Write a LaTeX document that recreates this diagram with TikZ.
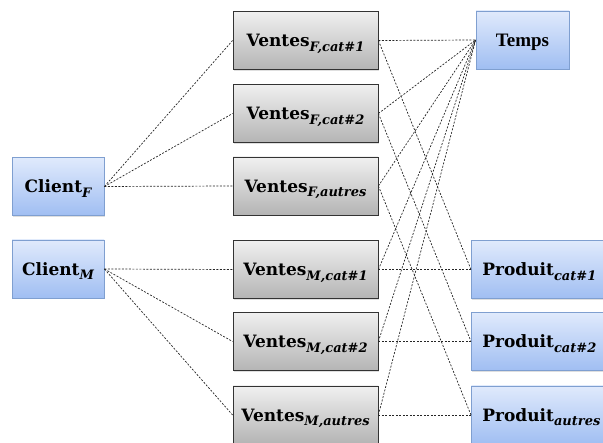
\documentclass[tikz,border=0pt]{standalone}
\usepackage{fontspec}
\setmainfont{DejaVu Serif}
\newfontfamily\timesfont{Liberation Serif}
\usetikzlibrary{shadows}
\definecolor{bluetop}{HTML}{E0EAFC}
\definecolor{bluebot}{HTML}{A0BEF2}
\definecolor{blueborder}{HTML}{7F9FD0}
\definecolor{graytop}{HTML}{F0F0F0}
\definecolor{graybot}{HTML}{B4B4B4}
\definecolor{grayborder}{HTML}{333333}
\newcommand\subtxt[1]{\raisebox{-4.5pt}{\fontsize{13}{13}\selectfont\bfseries\itshape #1}}
\tikzset{
  boxbase/.style={line width=0.8pt, inner sep=0pt, minimum height=58pt,
    text height=13pt, text depth=0pt,
    font=\fontsize{17}{18}\selectfont\bfseries,
    drop shadow={shadow xshift=0.8pt, shadow yshift=-1.2pt, opacity=0.25}},
  bluebox/.style={boxbase, draw=blueborder, top color=bluetop, bottom color=bluebot, minimum width=92pt},
  graybox/.style={boxbase, draw=grayborder, top color=graytop, bottom color=graybot, minimum width=145pt},
  prodbox/.style={bluebox, anchor=west, text width=140pt, align=left, inner xsep=11pt},
  link/.style={draw=black!85, line width=0.7pt, dash pattern=on 2pt off 1.5pt},
}
\begin{document}
\begin{tikzpicture}[x=1pt,y=-1pt]
\useasboundingbox (0,0) rectangle (603,443);
% clients
\node[bluebox] (cf) at (58,186.5) {Client\subtxt{F}};
\node[bluebox] (cm) at (58,269) {Client\subtxt{M}};
% ventes
\node[graybox] (vf1) at (305.5,40.5) {Ventes\subtxt{F,cat\#1}};
\node[graybox] (vf2) at (305.5,113.5) {Ventes\subtxt{F,cat\#2}};
\node[graybox] (vf3) at (305.5,186) {Ventes\subtxt{F,autres}};
\node[graybox] (vm1) at (305.5,269.5) {Ventes\subtxt{M,cat\#1}};
\node[graybox] (vm2) at (305.5,341.5) {Ventes\subtxt{M,cat\#2}};
\node[graybox] (vm3) at (305.5,415) {Ventes\subtxt{M,autres}};
% temps
\node[bluebox, minimum width=93pt, font=\timesfont\fontsize{19}{20}\selectfont\bfseries] (t) at (522.5,40) {Temps};
% produits
\node[prodbox] (p1) at (471,269.5) {Produit\subtxt{cat\#1}};
\node[prodbox] (p2) at (471,341.5) {Produit\subtxt{cat\#2}};
\node[prodbox] (p3) at (471,415) {Produit\subtxt{autres}};
% client links
\draw[link] (cf.east) -- (vf1.west);
\draw[link] (cf.east) -- (vf2.west);
\draw[link] (cf.east) -- (vf3.west);
\draw[link] (cm.east) -- (vm1.west);
\draw[link] (cm.east) -- (vm2.west);
\draw[link] (cm.east) -- (vm3.west);
% temps links
\foreach \v in {vf1,vf2,vf3,vm1,vm2,vm3}{\draw[link] (\v.east) -- (t.west);}
% produit links
\draw[link] (vf1.east) -- (p1.west);
\draw[link] (vm1.east) -- (p1.west);
\draw[link] (vf2.east) -- (p2.west);
\draw[link] (vm2.east) -- (p2.west);
\draw[link] (vf3.east) -- (p3.west);
\draw[link] (vm3.east) -- (p3.west);
\end{tikzpicture}
\end{document}
